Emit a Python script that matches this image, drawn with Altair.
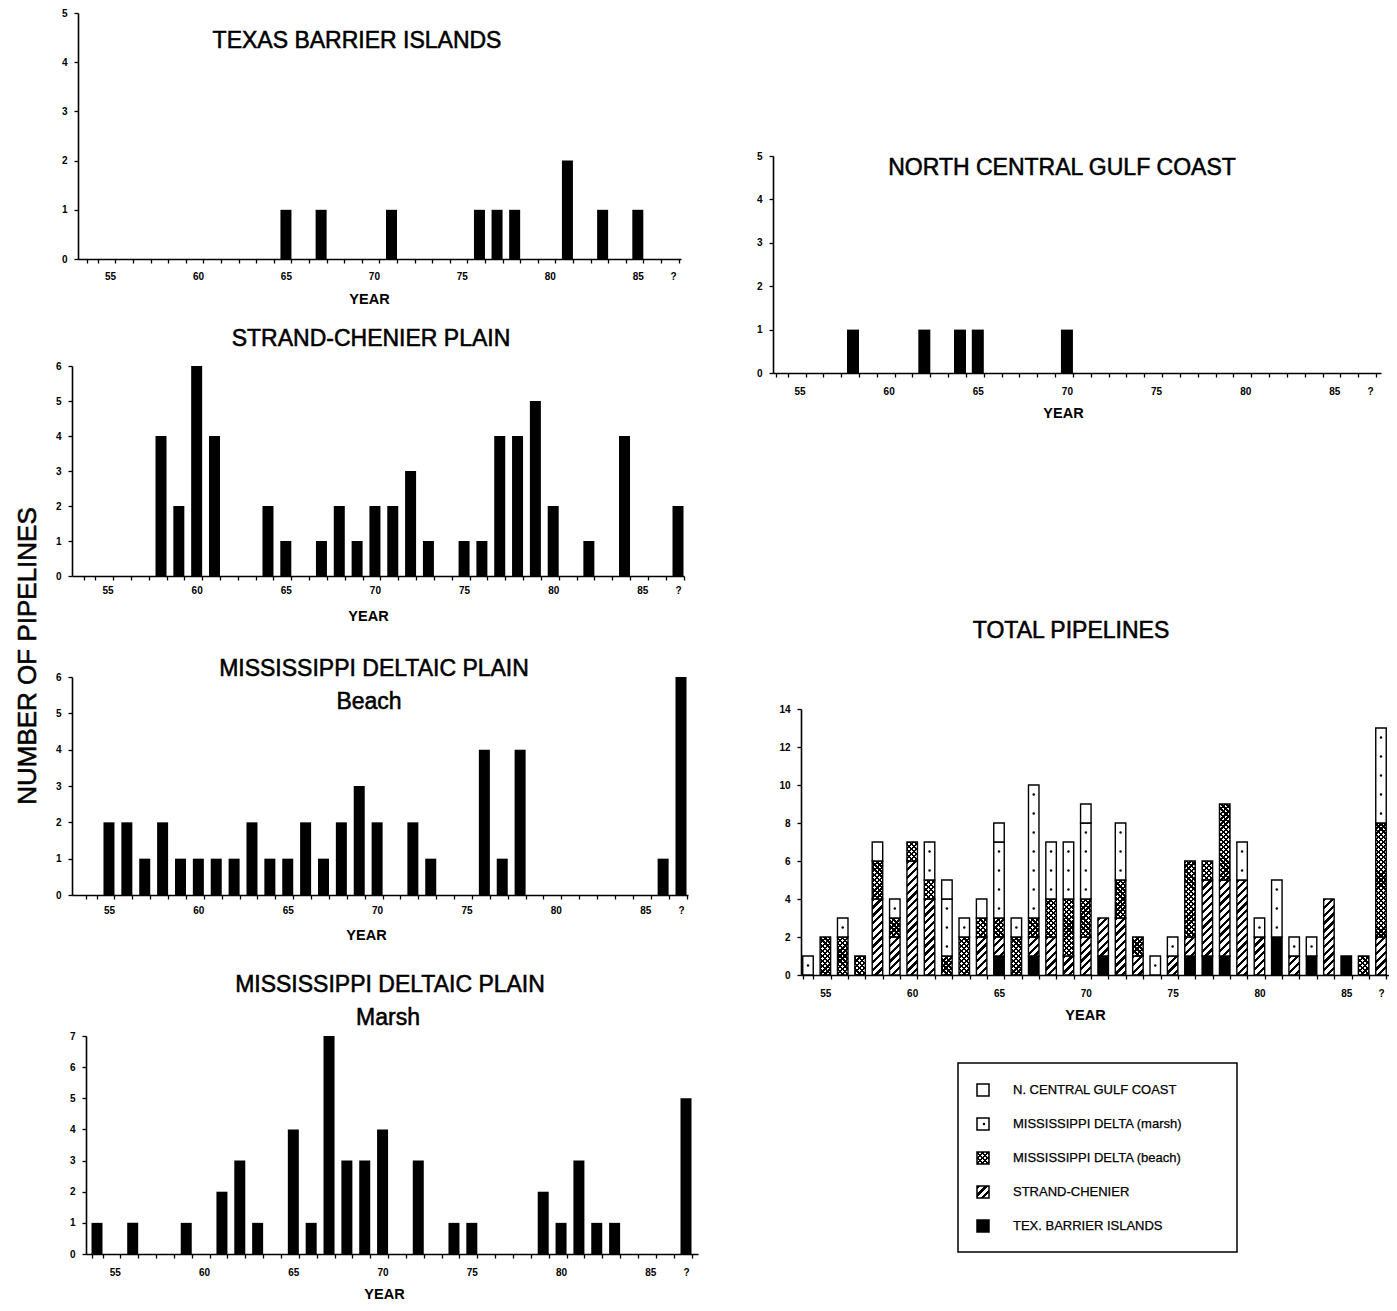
import math
import altair as alt
import pandas as pd

# ---------------- data ----------------
YEARS = [str(y) for y in range(54, 87)] + ["?"]
SHOWN_LABELS = ["55", "60", "65", "70", "75", "80", "85", "?"]

#            54 55 56 57 58 59 60 61 62 63 64 65 66 67 68 69 70 71 72 73 74 75 76 77 78 79 80 81 82 83 84 85 86  ?
TEXAS  = [0, 0, 0, 0, 0, 0, 0, 0, 0, 0, 0, 1, 0, 1, 0, 0, 0, 1, 0, 0, 0, 0, 1, 1, 1, 0, 0, 2, 0, 1, 0, 1, 0, 0]
STRAND = [0, 0, 0, 0, 4, 2, 6, 4, 0, 0, 2, 1, 0, 1, 2, 1, 2, 2, 3, 1, 0, 1, 1, 4, 4, 5, 2, 0, 1, 0, 4, 0, 0, 2]
BEACH  = [0, 2, 2, 1, 2, 1, 1, 1, 1, 2, 1, 1, 2, 1, 2, 3, 2, 0, 2, 1, 0, 0, 4, 1, 4, 0, 0, 0, 0, 0, 0, 0, 1, 6]
MARSH  = [1, 0, 1, 0, 0, 1, 0, 2, 3, 1, 0, 4, 1, 7, 3, 3, 4, 0, 3, 0, 1, 1, 0, 0, 0, 2, 1, 3, 1, 1, 0, 0, 0, 5]
NCGC   = [0, 0, 0, 0, 1, 0, 0, 0, 1, 0, 1, 1, 0, 0, 0, 0, 1, 0, 0, 0, 0, 0, 0, 0, 0, 0, 0, 0, 0, 0, 0, 0, 0, 0]

SERIES = ["TEX. BARRIER ISLANDS", "STRAND-CHENIER", "MISSISSIPPI DELTA (beach)",
          "MISSISSIPPI DELTA (marsh)", "N. CENTRAL GULF COAST"]
SERIES_VALUES = [TEXAS, STRAND, BEACH, MARSH, NCGC]
LEGEND_ORDER = [4, 3, 2, 1, 0]   # top to bottom in the key

# ---------------- layout ----------------
M = 8
W, H = 1381, 1295
FONT = "Liberation Sans"
TICK = 4
LABEL_EXPR = "indexof([%s], datum.value) >= 0 ? datum.value : ''" % ",".join("'%s'" % s for s in SHOWN_LABELS)


def band_x(c54, c87, left, right, bw):
    step = (c87 - c54) / 33.0
    pi = 1 - bw / step
    L = c54 - bw / 2 - left
    R = right - (c87 + bw / 2)
    po = (L + R) / (2 * step)
    align = L / (L + R)
    return alt.Scale(type="band", domain=YEARS, range=[left - M, right - M],
                     paddingInner=pi, paddingOuter=po, align=align)


def x_axis(y0, lab_off, title_x):
    return alt.Axis(orient="bottom", offset=(y0 - M) - H, title="YEAR",
                    labelExpr=LABEL_EXPR, labelOverlap=False, labelAngle=0,
                    tickBand="extent", labelBaseline="middle", labelPadding=lab_off - TICK,
                    titleX=title_x - M, titleY=44, titleBaseline="alphabetic")


def y_axis(x0, vals):
    return alt.Axis(orient="left", offset=-(x0 - M), values=vals, title=None, labelPadding=7)


def y_scale(y0, ytop, ymax):
    return alt.Scale(domain=[0, ymax], range=[y0 - M, ytop - M], nice=False, zero=True)


def panel(values, c54, c87, left, right, bw, y0, ytop, ymax, lab_off, title_x):
    df = pd.DataFrame({"year": YEARS, "n": values})
    return alt.Chart(df).transform_filter("datum.n > 0").mark_bar(color="black").encode(
        x=alt.X("year:N", scale=band_x(c54, c87, left, right, bw), axis=x_axis(y0, lab_off, title_x)),
        y=alt.Y("n:Q", scale=y_scale(y0, ytop, ymax), axis=y_axis(left, list(range(0, ymax + 1)))),
    )


def label(txt, x, y, size=23, angle=0, align="center", baseline="alphabetic"):
    kw = dict(font=FONT, fontSize=size, align=align, baseline=baseline, color="black",
              stroke="black", strokeWidth=0.55)
    if angle:
        kw["angle"] = angle
    return alt.Chart(pd.DataFrame({"t": [txt]})).mark_text(**kw).encode(
        x=alt.value(x - M), y=alt.value(y - M), text="t:N")


def hatch(direction, pitch, frac, fg, bg, w, hexpr, n=40):
    C = n * pitch * math.sqrt(2)
    pts = []
    for i in range(n):
        a, b, c = i / n, (i + frac) / n, (i + 1) / n
        pts += [(a, fg), (b, fg), (b, bg), (c, bg)]
    stops = ",".join("{offset:%.5f,color:'%s'}" % p for p in pts)
    k = "(%.4f/(%.4f+(%s)*(%s)))" % (C, w * w, hexpr, hexpr)
    if direction == "/":
        return "{gradient:'linear',x1:0,y1:0,x2:%s*%.4f,y2:%s*(%s),stops:[%s]}" % (k, w, k, hexpr, stops)
    return "{gradient:'linear',x1:0,y1:1,x2:%s*%.4f,y2:1-%s*(%s),stops:[%s]}" % (k, w, k, hexpr, stops)


def fill_expr(w, hexpr):
    hs = hatch("/", 5.5, 0.42, "black", "white", w, hexpr)
    hb = hatch("/", 3.6, 0.45, "black", "white", w, hexpr)
    return ("datum.order == 0 ? 'black' : (datum.order == 1 ? %s : (datum.order == 2 ? %s : 'white'))"
            % (hs, hb))


def overlay_expr(w, hexpr):
    return hatch("\\", 3.6, 0.45, "black", "rgba(0,0,0,0)", w, hexpr)


# ---------------- simple panels ----------------
texas = panel(TEXAS, 92.4, 673, 78, 681, 11, 259, 13, 5, 17, 369)
strand = panel(STRAND, 89.7, 678, 72, 684, 11, 576, 366, 6, 14, 368)
beach = panel(BEACH, 91.1, 681, 72, 688, 11, 895, 677, 6, 15, 366)
marsh = panel(MARSH, 97, 686, 86, 698, 11, 1254, 1036, 7, 18, 384)
ncgc = panel(NCGC, 781.7, 1370, 773, 1381, 12, 373, 156, 5, 18, 1063)

# ---------------- total stacked panel ----------------
rows = []
for oi, (name, arr) in enumerate(zip(SERIES, SERIES_VALUES)):
    for yr, v in zip(YEARS, arr):
        if v > 0:
            rows.append({"year": yr, "series": name, "order": oi, "n": v})
tot = pd.DataFrame(rows)

T_Y0, T_TOP, T_MAX = 975, 709, 14
PXU = (T_Y0 - T_TOP) / T_MAX
T_BW = 10.5
hexpr_t = "(datum.s1-datum.s0)*%.4f" % PXU


def tx():
    return band_x(808, 1381, 801, 1390, T_BW)


def ty():
    return y_scale(T_Y0, T_TOP, T_MAX)


tbase = alt.Chart(tot).transform_stack(
    stack="n", groupby=["year"], as_=["s0", "s1"], sort=[alt.SortField("order", order="ascending")])

t_seg = tbase.transform_calculate(fillobj=fill_expr(T_BW, hexpr_t)).mark_bar(
    stroke="black", strokeWidth=1.4).encode(
    x=alt.X("year:N", scale=tx(), axis=x_axis(T_Y0, 18, 1085)),
    y=alt.Y("s0:Q", scale=ty(), axis=y_axis(801, list(range(0, 15, 2)))),
    y2="s1:Q",
    fill=alt.Fill("fillobj:N", scale=None),
)
t_over = tbase.transform_filter("datum.order == 2").transform_calculate(
    fillobj=overlay_expr(T_BW, hexpr_t)).mark_bar(strokeWidth=0).encode(
    x=alt.X("year:N", scale=tx(), axis=None),
    y=alt.Y("s0:Q", scale=ty(), axis=None),
    y2="s1:Q",
    fill=alt.Fill("fillobj:N", scale=None),
)
t_dots = tbase.transform_filter("datum.order == 3").transform_calculate(
    seq="sequence(0, datum.n)").transform_flatten(["seq"]).transform_calculate(
    yd="datum.s0 + datum.seq + 0.5").mark_circle(size=6, color="black", opacity=1).encode(
    x=alt.X("year:N", scale=tx(), axis=None),
    y=alt.Y("yd:Q", scale=ty(), axis=None),
)

# ---------------- key ----------------
SQ = 12
leg = pd.DataFrame({"label": [SERIES[i] for i in LEGEND_ORDER],
                    "order": LEGEND_ORDER,
                    "idx": list(range(len(LEGEND_ORDER)))})


def ly():
    return alt.Scale(domain=[0, 4], range=[1090 - M, 1226 - M])


lbase = alt.Chart(leg)
l_box = alt.Chart(pd.DataFrame({"a": [0]})).mark_rect(fill="white", stroke="black", strokeWidth=1.5).encode(
    x=alt.value(958 - M), x2=alt.value(1237 - M), y=alt.value(1063 - M), y2=alt.value(1252 - M))
l_sq = lbase.transform_calculate(fillobj=fill_expr(SQ, str(SQ))).mark_square(
    size=SQ * SQ, stroke="black", strokeWidth=1.5, opacity=1).encode(
    x=alt.value(983 - M), y=alt.Y("idx:Q", scale=ly(), axis=None),
    fill=alt.Fill("fillobj:N", scale=None))
l_over = lbase.transform_filter("datum.order == 2").transform_calculate(
    fillobj=overlay_expr(SQ, str(SQ))).mark_square(size=SQ * SQ, strokeWidth=0, opacity=1).encode(
    x=alt.value(983 - M), y=alt.Y("idx:Q", scale=ly(), axis=None),
    fill=alt.Fill("fillobj:N", scale=None))
l_dot = lbase.transform_filter("datum.order == 3").mark_circle(size=6, color="black", opacity=1).encode(
    x=alt.value(984 - M), y=alt.Y("idx:Q", scale=ly(), axis=None))
l_txt = lbase.mark_text(font=FONT, fontSize=13, align="left", baseline="middle", color="black",
                        stroke="black", strokeWidth=0.25).encode(
    x=alt.value(1013 - M), y=alt.Y("idx:Q", scale=ly(), axis=None), text="label:N")

# ---------------- titles ----------------
titles = [
    label("TEXAS BARRIER ISLANDS", 357, 48),
    label("STRAND-CHENIER PLAIN", 371, 346),
    label("MISSISSIPPI DELTAIC PLAIN", 374, 676),
    label("Beach", 369, 709),
    label("MISSISSIPPI DELTAIC PLAIN", 390, 992),
    label("Marsh", 388, 1025),
    label("NORTH CENTRAL GULF COAST", 1062, 175),
    label("TOTAL PIPELINES", 1071, 638),
    label("NUMBER OF PIPELINES", 28, 656, size=26, angle=270, baseline="middle"),
]

chart = alt.layer(texas, strand, beach, marsh, ncgc, t_seg, t_over, t_dots,
                  l_box, l_sq, l_over, l_dot, l_txt, *titles).resolve_scale(
    x="independent", y="independent").resolve_axis(x="independent", y="independent").properties(
    width=W, height=H, autosize=alt.AutoSizeParams(type="none"), padding=0, background="white"
).configure_view(stroke=None).configure_axis(
    labelFont=FONT, labelFontSize=10, labelFontWeight="bold", labelColor="black",
    domainColor="black", domainWidth=1.6, tickColor="black", tickWidth=1.3, tickSize=TICK,
    titleFont=FONT, titleFontSize=14.5, titleFontWeight="bold", titleColor="black", grid=False,
)

chart.save("out.html", embed_options={"renderer": "svg", "actions": False})
